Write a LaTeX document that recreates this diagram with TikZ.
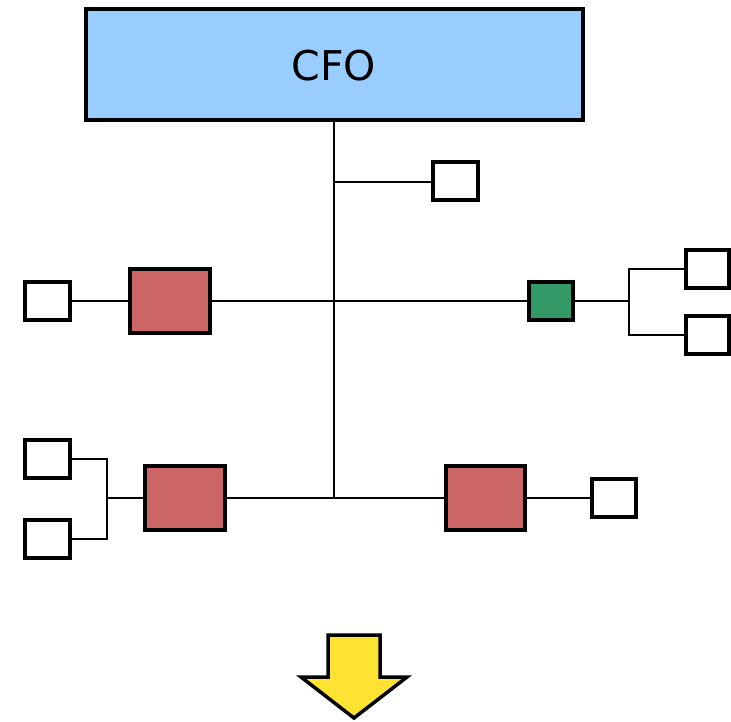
\documentclass[tikz,border=0pt]{standalone}
\usepackage{fontspec}
\setsansfont{DejaVu Sans}
\begin{document}
\begin{tikzpicture}[x=1pt,y=-1pt,
  box/.style={draw=black,line width=3.5pt},
  cfo/.style={box,fill=cfoblue},
  red/.style={box,fill=redbox},
  green/.style={box,fill=greenbox},
  small/.style={box,fill=white},
  conn/.style={draw=black,line width=2.2pt},
  thin/.style={draw=black,line width=1.8pt}]
\definecolor{cfoblue}{HTML}{99CCFF}
\definecolor{redbox}{HTML}{CC6666}
\definecolor{greenbox}{HTML}{339966}
\definecolor{arrowyellow}{HTML}{FFE333}
\useasboundingbox (0,0) rectangle (731,721);
% boxes
\path[cfo] (86,9) rectangle (583,120);
\node[font=\sffamily\fontsize{41}{48}\selectfont] (cfo) at (334,66) {CFO};
\coordinate (cfob) at (334,120);
\node[small,minimum width=45pt,minimum height=38pt,inner sep=0pt] (s1) at (455.5,181) {};
\node[red,minimum width=80pt,minimum height=64pt,inner sep=0pt] (r1) at (170,301) {};
\node[small,minimum width=45pt,minimum height=38pt,inner sep=0pt] (s2) at (47.5,301) {};
\node[green,minimum width=44pt,minimum height=38pt,inner sep=0pt] (g1) at (551,301) {};
\node[small,minimum width=43pt,minimum height=38pt,inner sep=0pt] (s3) at (707.5,269) {};
\node[small,minimum width=43pt,minimum height=38pt,inner sep=0pt] (s4) at (707.5,335) {};
\node[red,minimum width=80pt,minimum height=64pt,inner sep=0pt] (r2) at (185,498) {};
\node[red,minimum width=79pt,minimum height=64pt,inner sep=0pt] (r3) at (485.5,498) {};
\node[small,minimum width=44pt,minimum height=38pt,inner sep=0pt] (s5) at (614,498) {};
\node[small,minimum width=45pt,minimum height=38pt,inner sep=0pt] (s6) at (47.5,459) {};
\node[small,minimum width=45pt,minimum height=38pt,inner sep=0pt] (s7) at (47.5,539) {};
% coordinates
\coordinate (j1) at (334,182);
\coordinate (j2) at (334,301);
\coordinate (j3) at (334,498);
\coordinate (br) at (629,301);
\coordinate (bl) at (107,498);
% connectors
\draw[conn] (cfob) -- (j3);
\draw[conn] (j1) -- (s1.west |- j1);
\draw[conn] (r1.east) -- (g1.west);
\draw[conn] (s2.east) -- (r1.west);
\draw[conn] (g1.east) -- (br);
\draw[thin] (s3.west) -| (br) |- (s4.west);
\draw[conn] (r2.east) -- (r3.west);
\draw[conn] (r3.east) -- (s5.west);
\draw[conn] (bl) -- (r2.west);
\draw[thin] (s6.east) -| (bl) |- (s7.east);
% arrow
\draw[line width=3.5pt,fill=arrowyellow,line join=miter]
  (328,635) -- (380,635) -- (380,677) -- (407,677) -- (354,718) -- (301,677) -- (328,677) -- cycle;
\end{tikzpicture}
\end{document}
